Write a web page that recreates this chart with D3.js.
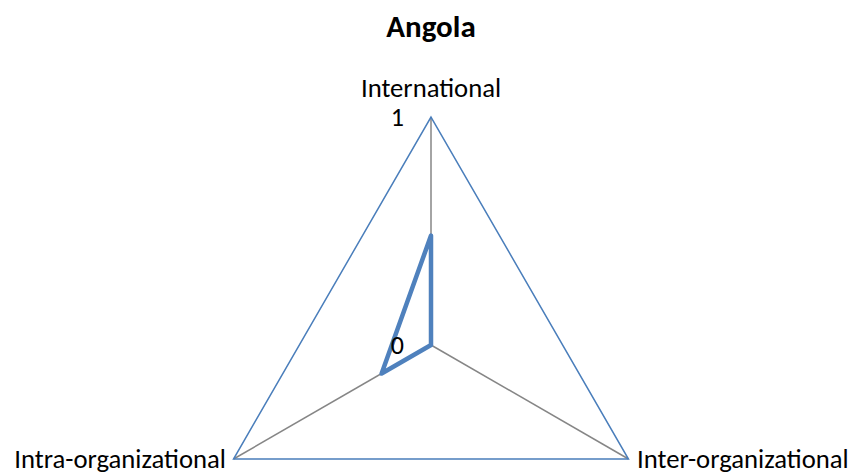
<!DOCTYPE html>
<html>
<head>
<meta charset="utf-8">
<script src="https://cdn.jsdelivr.net/npm/d3@7"></script>
<style>
  body { margin: 0; background: #fff; }
  text { font-family: Carlito, Calibri, "Open Sans", sans-serif; }
</style>
</head>
<body>
<div id="chart"></div>
<script>
// Chart data
const axes = ["International", "Inter-organizational", "Intra-organizational"];
const values = [0.48, 0, 0.25];
const ticks = [0, 1];
const title = "Angola";

const width = 853, height = 475;
const cx = 431, cy = 345, radius = 228;

const svg = d3.select("#chart").append("svg")
    .attr("width", width)
    .attr("height", height);

const r = d3.scaleLinear().domain([0, 1]).range([0, radius]);
const angle = d3.scaleBand().domain(axes).range([0, 2 * Math.PI]);

function pt(axis, v) {
    const a = angle(axis) - Math.PI / 2;
    return [cx + r(v) * Math.cos(a), cy + r(v) * Math.sin(a)];
}

// Spokes
svg.selectAll(".spoke")
    .data(axes)
    .enter().append("line")
    .attr("x1", cx).attr("y1", cy)
    .attr("x2", d => pt(d, 1)[0])
    .attr("y2", d => pt(d, 1)[1])
    .attr("stroke", "#868686")
    .attr("stroke-width", 1.5);

// Outer grid (max value)
svg.append("polygon")
    .attr("points", axes.map(d => pt(d, d3.max(ticks)).join(",")).join(" "))
    .attr("fill", "none")
    .attr("stroke", "#4a7ebb")
    .attr("stroke-width", 1.5);

// Data series
const line = d3.line().curve(d3.curveLinearClosed);
svg.append("path")
    .attr("d", line(axes.map((d, i) => pt(d, values[i]))))
    .attr("fill", "none")
    .attr("stroke", "#4f81bd")
    .attr("stroke-width", 4.5)
    .attr("stroke-linejoin", "round");

// Tick labels
svg.selectAll(".tick")
    .data(ticks)
    .enter().append("text")
    .attr("x", cx - 27)
    .attr("y", d => cy - r(d) + 9)
    .attr("text-anchor", "end")
    .style("font-size", "26px")
    .text(d => d);

// Axis labels
const labelPos = [
    { x: cx, y: 97, anchor: "middle" },
    { x: 637, y: 468, anchor: "start" },
    { x: 226, y: 468, anchor: "end" }
];
svg.selectAll(".axis-label")
    .data(axes)
    .enter().append("text")
    .attr("x", (d, i) => labelPos[i].x)
    .attr("y", (d, i) => labelPos[i].y)
    .attr("text-anchor", (d, i) => labelPos[i].anchor)
    .style("font-size", "26.7px")
    .text(d => d);

// Title
svg.append("text")
    .attr("x", cx)
    .attr("y", 37)
    .attr("text-anchor", "middle")
    .style("font-size", "31px")
    .style("font-weight", "bold")
    .text(title);
</script>
</body>
</html>
